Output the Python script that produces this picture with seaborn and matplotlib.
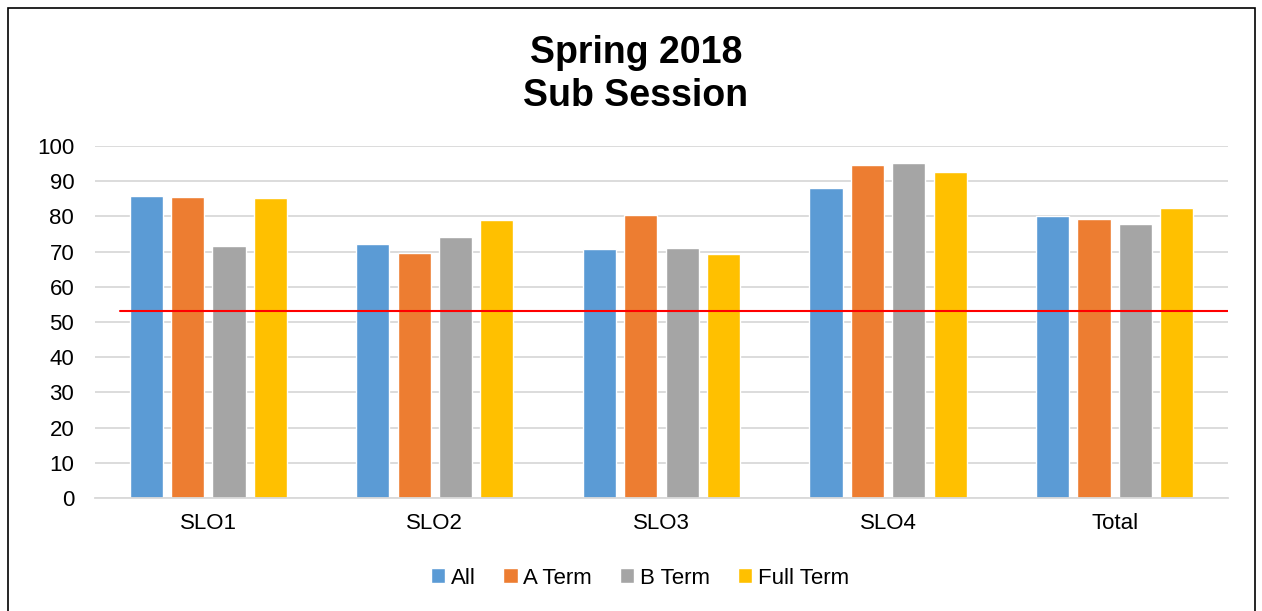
import pandas as pd
import seaborn as sns
import matplotlib.pyplot as plt
from matplotlib.patches import Rectangle

categories = ["SLO1", "SLO2", "SLO3", "SLO4", "Total"]
terms = ["All", "A Term", "B Term", "Full Term"]
all_vals = [85.8, 72.2, 70.7, 88.2, 80.2]
a_term = [85.6, 69.5, 80.3, 94.5, 79.2]
b_term = [71.5, 74.2, 71.1, 95.3, 77.8]
full_term = [85.2, 79.0, 69.3, 92.7, 82.5]
target = 53.1
colors = ["#5B9BD5", "#ED7D31", "#A5A5A5", "#FFC000"]

rows = []
for term, vals in zip(terms, [all_vals, a_term, b_term, full_term]):
    for cat, v in zip(categories, vals):
        rows.append({"SLO": cat, "Term": term, "Score": v})
df = pd.DataFrame(rows)

sns.set_theme(style="white")
plt.rcParams["font.family"] = ["Liberation Sans", "DejaVu Sans"]
plt.rcParams["text.color"] = "black"

fig = plt.figure(figsize=(12.62, 6.11), dpi=100)
ax = fig.add_axes([0.0753, 0.185, 0.8977, 0.576])

sns.barplot(data=df, x="SLO", y="Score", hue="Term", palette=colors,
            width=0.73, gap=0.2, ax=ax, saturation=1, legend=True)

ax.axhline(target, xmin=0.022, xmax=1, color="#FF0000", lw=1.5, zorder=5)

ax.set_ylim(0, 100)
ax.set_xlim(-0.5, 4.5)
ax.set_yticks(range(0, 101, 10))
ax.yaxis.grid(True, color="#D9D9D9", lw=1.3)
ax.set_axisbelow(True)
for s in ["top", "right", "left"]:
    ax.spines[s].set_visible(False)
ax.spines["bottom"].set_color("#D9D9D9")
ax.spines["bottom"].set_linewidth(1.3)
ax.set_xlabel("")
ax.set_ylabel("")
ax.tick_params(axis="y", length=0, pad=15, labelsize=16, labelcolor="black")
ax.tick_params(axis="x", length=0, pad=11, labelsize=16, labelcolor="black")

handles, labels = ax.get_legend_handles_labels()
ax.legend_.remove()
fig.legend(handles, labels, loc="center", bbox_to_anchor=(0.507, 0.054), ncol=4,
           frameon=False, fontsize=16, handlelength=0.65, handleheight=0.65,
           handletextpad=0.25, columnspacing=1.25)

fig.text(0.504, 0.878, "Spring 2018\nSub Session", ha="center", va="center",
         fontsize=27, fontweight="bold", linespacing=1.25, color="black")

fig.patches.append(Rectangle((8 / 1262, -0.02), 1247 / 1262, 1.02 - 8 / 611,
                             transform=fig.transFigure, fill=False,
                             edgecolor="black", lw=1.2))

fig.savefig("out.png", dpi=100)
